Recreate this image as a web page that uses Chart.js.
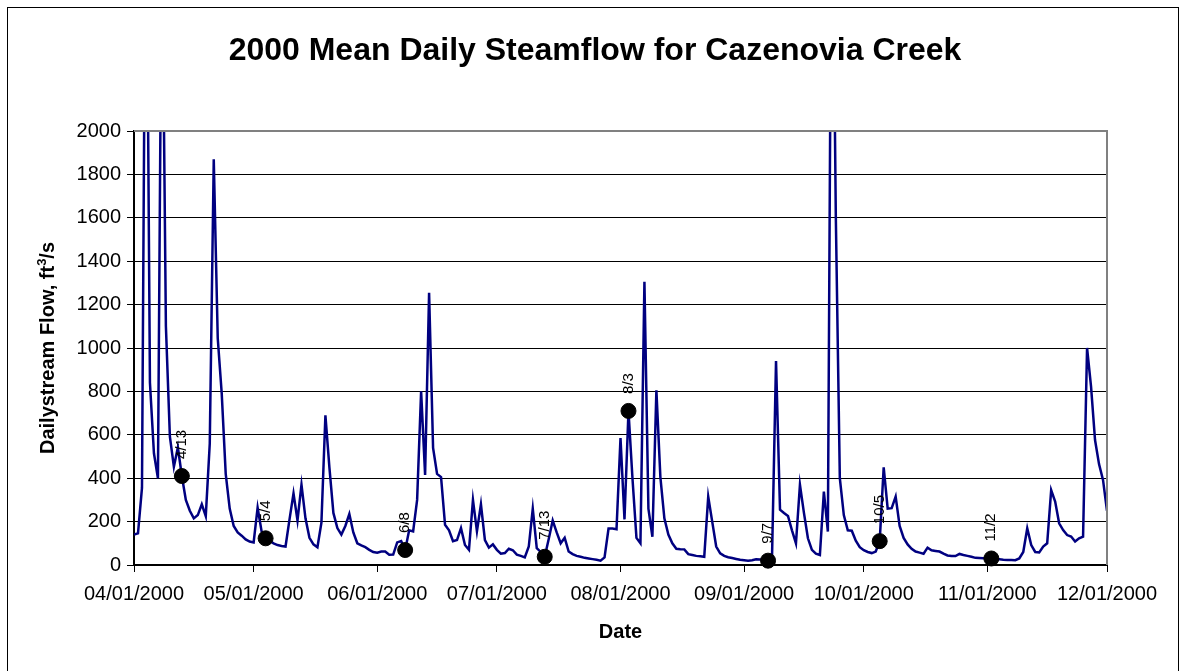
<!DOCTYPE html>
<html>
<head>
<meta charset="utf-8">
<title>Cazenovia Creek 2000</title>
<script src="https://cdn.jsdelivr.net/npm/chart.js@4.4.0/dist/chart.umd.min.js"></script>
<style>
  body { margin: 0; background: #fff; }
  canvas { display: block; }
</style>
</head>
<body>
<canvas id="myChart" width="1185" height="671"></canvas>
<script>
// Vazão média diária (ft3/s), dia 0 = 04/01/2000 ... dia 244 = 12/01/2000
const vazaoDiaria = [
  140, 146, 355, 3400, 840, 515, 400, 3000, 1100, 591,
  453, 542, 410, 300, 250, 215, 230, 280, 225, 560,
  1870, 1045, 790, 420, 260, 180, 150, 135, 118, 108,
  104, 264, 155, 123, 112, 100, 92, 88, 85, 210,
  330, 205, 370, 215, 125, 95, 82, 195, 690, 450,
  240, 170, 140, 180, 235, 150, 100, 90, 82, 70,
  60, 57, 62, 62, 47, 48, 104, 110, 69, 160,
  155, 300, 800, 415, 1255, 540, 420, 405, 185, 160,
  110, 115, 170, 92, 70, 300, 155, 280, 115, 80,
  95, 70, 52, 55, 75, 68, 48, 42, 35, 85,
  260, 78, 60, 38, 120, 205, 150, 100, 125, 62,
  50, 42, 38, 33, 30, 27, 24, 20, 35, 168,
  168, 165, 585, 210, 710, 400, 125, 100, 1305, 260,
  130, 805, 405, 215, 140, 100, 75, 73, 72, 50,
  46, 42, 40, 38, 315, 200, 85, 54, 42, 36,
  32, 28, 24, 22, 20, 22, 26, 25, 24, 20,
  38, 940, 255, 240, 226, 160, 100, 370, 240, 123,
  70, 52, 46, 338, 154, 3400, 1600, 400, 230, 160,
  158, 112, 82, 68, 60, 55, 62, 110, 450, 260,
  262, 315, 180, 125, 95, 75, 62, 57, 52, 80,
  68, 65, 62, 52, 44, 41, 41, 51, 46, 42,
  38, 33, 32, 31, 30, 30, 28, 26, 24, 23,
  23, 22, 30, 60, 169, 92, 60, 58, 85, 100,
  345, 292, 192, 161, 138, 131, 108, 123, 131, 1000,
  822, 576, 465, 392, 250
];

// Início de cada mês (em dias desde 04/01) e os rótulos do eixo X
const diasMes = [0, 30, 61, 91, 122, 153, 183, 214, 244];
const rotulosMes = ['04/01/2000', '05/01/2000', '06/01/2000', '07/01/2000', '08/01/2000',
                    '09/01/2000', '10/01/2000', '11/01/2000', '12/01/2000'];

// Dias de coleta destacados no gráfico
const diasMarcados = [12, 33, 68, 103, 124, 159, 187, 215];
const rotulosMarcados = ['4/13', '5/4', '6/8', '7/13', '8/3', '9/7', '10/5', '11/2'];

const titulo = '2000 Mean Daily Steamflow for Cazenovia Creek';
const FONTE = '"Liberation Sans", Arial, Helvetica, sans-serif';

// 1. Plugin para os textos e molduras que o Chart.js não desenha sozinho
const extrasGrafico = {
  id: 'extrasGrafico',
  beforeDraw(chart) {
    const ctx = chart.ctx;
    ctx.save();
    ctx.fillStyle = '#fff';
    ctx.fillRect(0, 0, chart.width, chart.height);
    ctx.restore();
  },
  afterDraw(chart) {
    const ctx = chart.ctx;
    const area = chart.chartArea;
    ctx.save();

    // moldura da área de plotagem (cinza em cima e à direita)
    ctx.strokeStyle = '#808080';
    ctx.lineWidth = 2;
    ctx.beginPath();
    ctx.moveTo(area.left, area.top);
    ctx.lineTo(area.right, area.top);
    ctx.lineTo(area.right, area.bottom);
    ctx.stroke();

    // moldura externa do gráfico
    ctx.strokeStyle = '#000';
    ctx.lineWidth = 1;
    ctx.strokeRect(7.5, 7.5, 1171, 700);

    ctx.fillStyle = '#000';
    ctx.textAlign = 'center';
    ctx.textBaseline = 'middle';

    // título
    ctx.font = 'bold 32px ' + FONTE;
    ctx.fillText(titulo, 595, 51);

    // título do eixo X
    ctx.font = 'bold 20px ' + FONTE;
    ctx.fillText('Date', (area.left + area.right) / 2, 632);

    // título do eixo Y, com o "3" sobrescrito
    ctx.save();
    ctx.translate(48, (area.top + area.bottom) / 2);
    ctx.rotate(-Math.PI / 2);
    const parte1 = 'Dailystream Flow, ft', sobrescrito = '3', parte2 = '/s';
    ctx.font = 'bold 20px ' + FONTE;
    const w1 = ctx.measureText(parte1).width;
    const w3 = ctx.measureText(parte2).width;
    ctx.font = 'bold 13px ' + FONTE;
    const w2 = ctx.measureText(sobrescrito).width;
    let x = -(w1 + w2 + w3) / 2;
    ctx.textAlign = 'left';
    ctx.font = 'bold 20px ' + FONTE;
    ctx.fillText(parte1, x, 0);
    x += w1;
    ctx.font = 'bold 13px ' + FONTE;
    ctx.fillText(sobrescrito, x, -6);
    x += w2;
    ctx.font = 'bold 20px ' + FONTE;
    ctx.fillText(parte2, x, 0);
    ctx.restore();

    // rótulos verticais acima de cada ponto destacado
    const meta = chart.getDatasetMeta(1);
    ctx.font = '15px ' + FONTE;
    meta.data.forEach((pt, i) => {
      ctx.save();
      ctx.translate(pt.x, pt.y - 17);
      ctx.rotate(-Math.PI / 2);
      ctx.textAlign = 'left';
      ctx.textBaseline = 'middle';
      ctx.fillText(rotulosMarcados[i], 0, 0);
      ctx.restore();
    });

    ctx.restore();
  }
};

// 2. Monta o gráfico
const ctx = document.getElementById('myChart').getContext('2d');
const pontosVazao = vazaoDiaria.map((v, i) => ({ x: i, y: v }));
const pontosMarcados = diasMarcados.map(d => ({ x: d, y: vazaoDiaria[d] }));

new Chart(ctx, {
  type: 'line',
  data: {
    datasets: [{
      label: 'Vazão diária',
      data: pontosVazao,
      borderColor: '#000080',
      borderWidth: 2.5,
      pointRadius: 0,
      tension: 0,
      order: 1
    }, {
      type: 'scatter',
      label: 'Coletas',
      data: pontosMarcados,
      backgroundColor: '#000',
      borderColor: '#000',
      pointRadius: 7.5,
      clip: false,
      order: 0
    }]
  },
  options: {
    responsive: false,
    animation: false,
    devicePixelRatio: 1,
    layout: {
      autoPadding: false,
      padding: { left: 0, top: 131, right: 78, bottom: 0 }
    },
    plugins: {
      legend: { display: false },
      tooltip: { enabled: false }
    },
    scales: {
      x: {
        type: 'linear',
        min: 0,
        max: 244,
        afterBuildTicks(axis) {
          axis.ticks = diasMes.map(v => ({ value: v }));
        },
        afterFit(scale) {
          scale.height = 106;
        },
        ticks: {
          autoSkip: false,
          maxRotation: 0,
          padding: 10,
          color: '#000',
          font: { family: FONTE, size: 20 },
          callback: (v) => rotulosMes[diasMes.indexOf(v)]
        },
        grid: {
          drawOnChartArea: false,
          drawTicks: true,
          tickLength: 7,
          color: '#000',
          lineWidth: 1
        },
        border: { color: '#000', width: 2 }
      },
      y: {
        min: 0,
        max: 2000,
        afterFit(scale) {
          scale.width = 134;
        },
        ticks: {
          stepSize: 200,
          padding: 6,
          color: '#000',
          font: { family: FONTE, size: 20 },
          callback: (v) => String(v)
        },
        grid: {
          color: '#000',
          lineWidth: 1,
          tickLength: 7
        },
        border: { color: '#000', width: 2 }
      }
    }
  },
  plugins: [extrasGrafico]
});
</script>
</body>
</html>
